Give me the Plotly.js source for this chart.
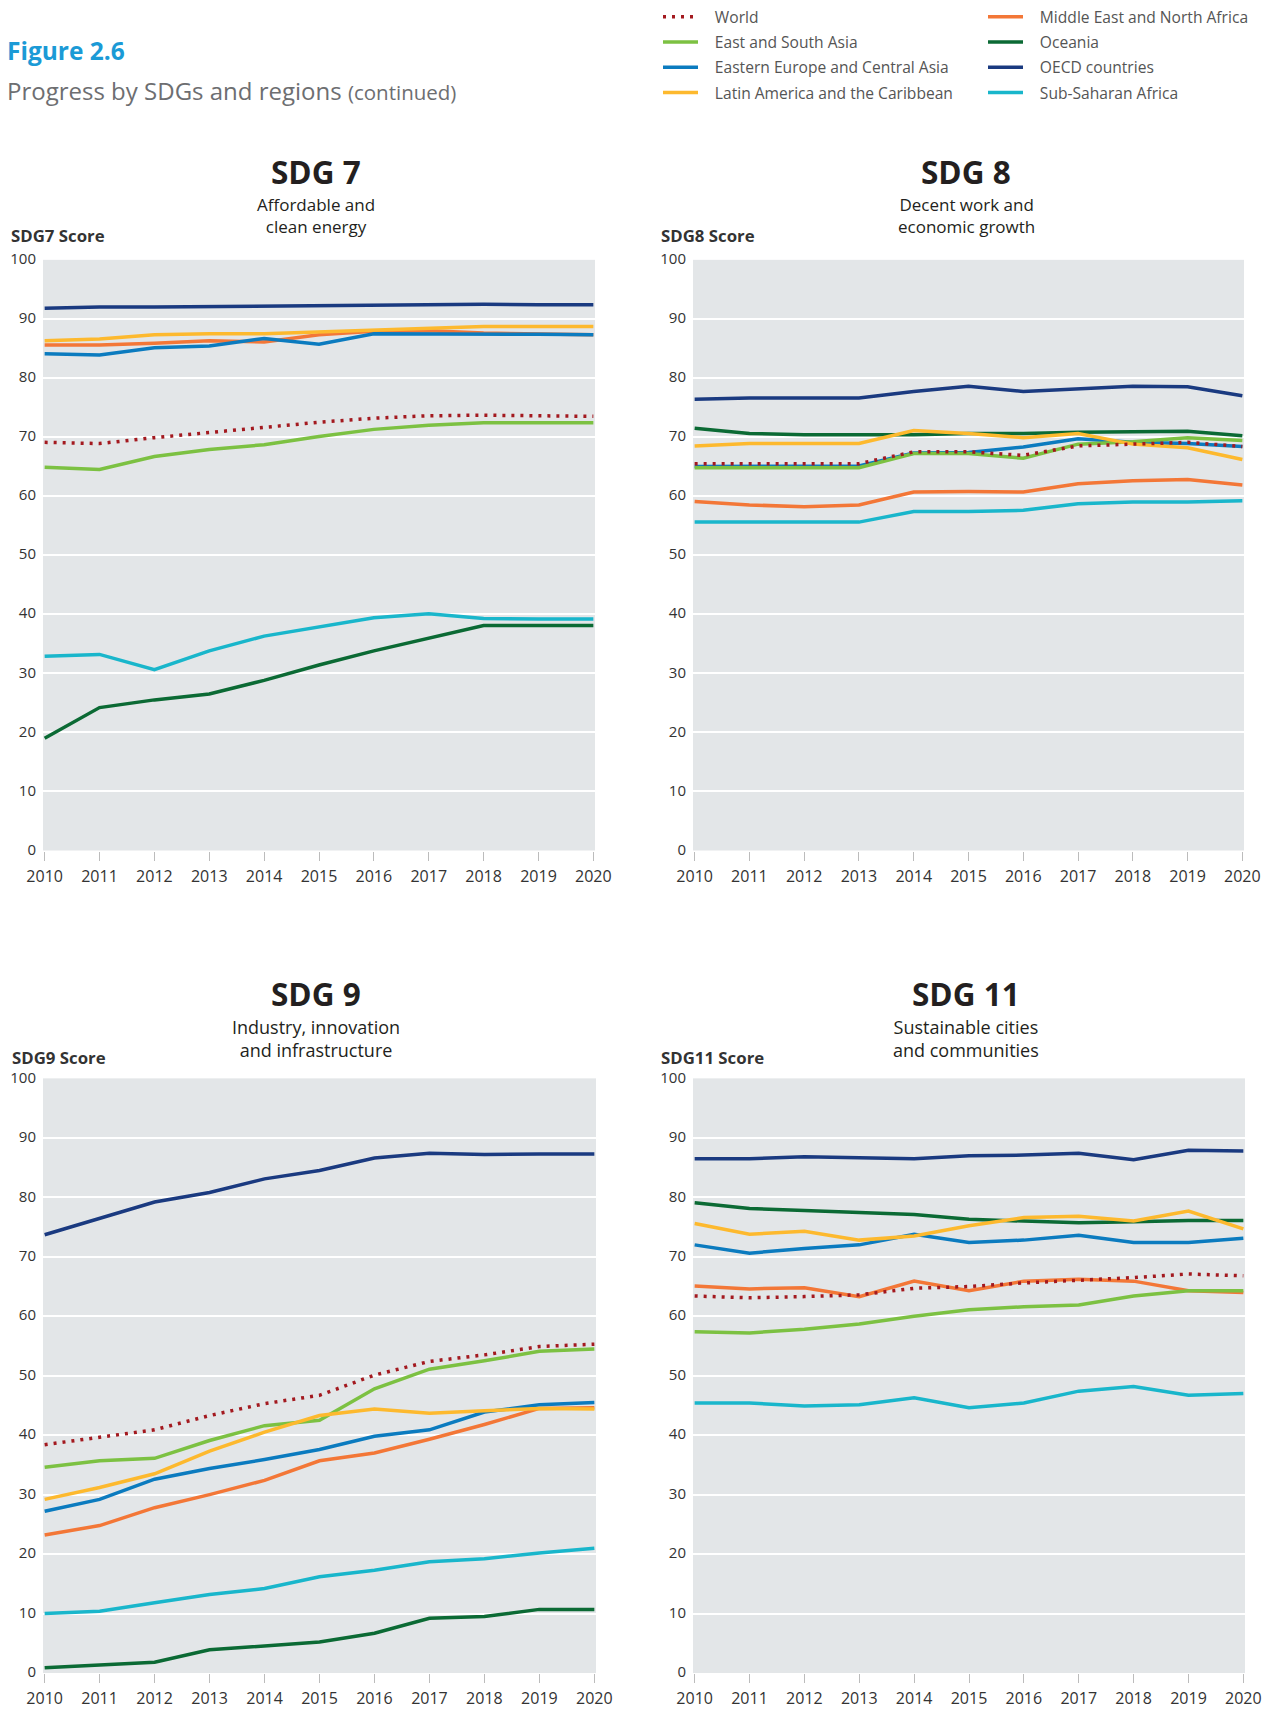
<!DOCTYPE html>
<html>
<head>
<meta charset="utf-8">
<script src="https://cdn.plot.ly/plotly-3.0.1.min.js"></script>
<style>
  html, body { margin: 0; padding: 0; background: #ffffff; }
  #chart { width: 1274px; height: 1709px; }
</style>
</head>
<body>
<div id="chart"></div>
<script>
// ---------------- DATA ----------------
const years = [2010, 2011, 2012, 2013, 2014, 2015, 2016, 2017, 2018, 2019, 2020];
const yTicks = [0, 10, 20, 30, 40, 50, 60, 70, 80, 90, 100];

const regionNames = ["World", "East and South Asia", "Eastern Europe and Central Asia", "Latin America and the Caribbean",
                     "Middle East and North Africa", "Oceania", "OECD countries", "Sub-Saharan Africa"];

// SDG 7 - Affordable and clean energy
const world7 = [69.1, 68.9, 69.9, 70.8, 71.6, 72.5, 73.2, 73.6, 73.7, 73.6, 73.5];
const esa7   = [64.9, 64.5, 66.7, 67.9, 68.7, 70.1, 71.3, 72.0, 72.4, 72.4, 72.4];
const eeca7  = [84.1, 83.9, 85.1, 85.4, 86.7, 85.7, 87.5, 87.5, 87.4, 87.4, 87.3];
const lac7   = [86.3, 86.6, 87.3, 87.5, 87.5, 87.8, 88.1, 88.3, 88.7, 88.7, 88.7];
const mena7  = [85.6, 85.6, 85.9, 86.3, 86.1, 87.3, 87.9, 88.0, 87.6, 87.4, 87.3];
const oce7   = [19.0, 24.2, 25.5, 26.5, 28.8, 31.4, 33.8, 36.0, 38.1, 38.1, 38.1];
const oecd7  = [91.8, 92.0, 92.0, 92.1, 92.2, 92.2, 92.3, 92.4, 92.5, 92.4, 92.4];
const ssa7   = [32.9, 33.2, 30.6, 33.8, 36.3, 37.9, 39.4, 40.1, 39.3, 39.2, 39.2];

// SDG 8 - Decent work and economic growth
const world8 = [65.5, 65.5, 65.5, 65.5, 67.5, 67.5, 66.9, 68.5, 68.8, 69.1, 68.4];
const esa8   = [64.8, 64.8, 64.8, 64.8, 67.2, 67.2, 66.4, 68.8, 69.2, 69.9, 69.4];
const eeca8  = [65.0, 65.0, 65.0, 65.1, 67.3, 67.4, 68.3, 69.7, 69.1, 68.9, 68.4];
const lac8   = [68.5, 68.9, 68.9, 68.9, 71.1, 70.6, 69.9, 70.6, 68.8, 68.2, 66.2];
const mena8  = [59.1, 58.5, 58.2, 58.5, 60.7, 60.8, 60.7, 62.1, 62.6, 62.8, 61.9];
const oce8   = [71.5, 70.6, 70.4, 70.4, 70.4, 70.6, 70.6, 70.8, 70.9, 71.0, 70.2];
const oecd8  = [76.4, 76.6, 76.6, 76.6, 77.7, 78.6, 77.7, 78.2, 78.6, 78.5, 77.0];
const ssa8   = [55.6, 55.6, 55.6, 55.6, 57.4, 57.4, 57.6, 58.7, 59.0, 59.0, 59.2];

// SDG 9 - Industry, innovation and infrastructure
const world9 = [38.4, 39.7, 40.9, 43.3, 45.3, 46.7, 50.1, 52.4, 53.5, 54.9, 55.3];
const esa9   = [34.6, 35.7, 36.1, 39.1, 41.6, 42.5, 47.8, 51.1, 52.5, 54.1, 54.5];
const eeca9  = [27.2, 29.2, 32.6, 34.4, 35.9, 37.6, 39.8, 40.9, 43.9, 45.1, 45.5];
const lac9   = [29.2, 31.2, 33.5, 37.3, 40.5, 43.3, 44.4, 43.7, 44.1, 44.5, 44.4];
const mena9  = [23.2, 24.8, 27.8, 30.0, 32.4, 35.7, 37.0, 39.3, 41.8, 44.5, 44.6];
const oce9   = [0.9, 1.3, 1.8, 3.9, 4.6, 5.2, 6.7, 9.2, 9.5, 10.7, 10.7];
const oecd9  = [73.7, 76.5, 79.2, 80.8, 83.1, 84.5, 86.6, 87.4, 87.2, 87.3, 87.3];
const ssa9   = [10.0, 10.4, 11.8, 13.2, 14.2, 16.2, 17.3, 18.7, 19.2, 20.2, 21.0];

// SDG 11 - Sustainable cities and communities
const world11 = [63.4, 63.1, 63.3, 63.6, 64.7, 65.0, 65.6, 66.0, 66.5, 67.1, 66.8];
const esa11   = [57.4, 57.2, 57.8, 58.7, 60.0, 61.1, 61.6, 61.9, 63.4, 64.3, 64.3];
const eeca11  = [72.0, 70.6, 71.4, 72.0, 73.8, 72.4, 72.8, 73.6, 72.4, 72.4, 73.1];
const lac11   = [75.6, 73.8, 74.3, 72.8, 73.5, 75.2, 76.6, 76.8, 76.0, 77.7, 74.7];
const mena11  = [65.1, 64.6, 64.8, 63.3, 65.9, 64.3, 65.9, 66.2, 65.9, 64.3, 64.0];
const oce11   = [79.1, 78.1, 77.8, 77.4, 77.1, 76.3, 76.0, 75.7, 75.9, 76.1, 76.1];
const oecd11  = [86.5, 86.5, 86.8, 86.7, 86.5, 87.0, 87.1, 87.4, 86.3, 87.9, 87.8];
const ssa11   = [45.4, 45.4, 44.9, 45.1, 46.3, 44.6, 45.4, 47.4, 48.2, 46.7, 47.0];

// ---------------- STYLE ----------------
const W = 1274, H = 1709;
const FONT = "Open Sans, Noto Sans, DejaVu Sans, sans-serif";
const colors = {
  "World": "#a3191f",
  "East and South Asia": "#7cc142",
  "Eastern Europe and Central Asia": "#0b7bbf",
  "Latin America and the Caribbean": "#fdb92e",
  "Middle East and North Africa": "#f37737",
  "Oceania": "#0b6a34",
  "OECD countries": "#1a3a80",
  "Sub-Saharan Africa": "#19b6cb"
};
// legend placement: column and rank
const legendInfo = {
  "World": ["legend", 1], "East and South Asia": ["legend", 2],
  "Eastern Europe and Central Asia": ["legend", 3], "Latin America and the Caribbean": ["legend", 4],
  "Middle East and North Africa": ["legend2", 1], "Oceania": ["legend2", 2],
  "OECD countries": ["legend2", 3], "Sub-Saharan Africa": ["legend2", 4]
};
// drawing order (bottom to top)
const drawOrder = ["Oceania", "Middle East and North Africa", "Eastern Europe and Central Asia",
                   "East and South Asia", "Latin America and the Caribbean", "OECD countries",
                   "Sub-Saharan Africa", "World"];

const panels = [
  { ax: "", data: { "World": world7, "East and South Asia": esa7, "Eastern Europe and Central Asia": eeca7,
      "Latin America and the Caribbean": lac7, "Middle East and North Africa": mena7, "Oceania": oce7,
      "OECD countries": oecd7, "Sub-Saharan Africa": ssa7 } },
  { ax: "2", data: { "World": world8, "East and South Asia": esa8, "Eastern Europe and Central Asia": eeca8,
      "Latin America and the Caribbean": lac8, "Middle East and North Africa": mena8, "Oceania": oce8,
      "OECD countries": oecd8, "Sub-Saharan Africa": ssa8 } },
  { ax: "3", data: { "World": world9, "East and South Asia": esa9, "Eastern Europe and Central Asia": eeca9,
      "Latin America and the Caribbean": lac9, "Middle East and North Africa": mena9, "Oceania": oce9,
      "OECD countries": oecd9, "Sub-Saharan Africa": ssa9 } },
  { ax: "4", data: { "World": world11, "East and South Asia": esa11, "Eastern Europe and Central Asia": eeca11,
      "Latin America and the Caribbean": lac11, "Middle East and North Africa": mena11, "Oceania": oce11,
      "OECD countries": oecd11, "Sub-Saharan Africa": ssa11 } }
];

const LEGEND_PAD = "\u2002\u00a0";  // small gap between legend line and label

const traces = [];
panels.forEach((p, pi) => {
  drawOrder.forEach(name => {
    const isWorld = name === "World";
    traces.push({
      type: "scatter", mode: "lines",
      x: years, y: p.data[name], name: LEGEND_PAD + name,
      xaxis: "x" + p.ax, yaxis: "y" + p.ax,
      line: { color: colors[name], width: 3.5, dash: isWorld ? "3px,6px" : "solid" },
      showlegend: pi === 0,
      legend: legendInfo[name][0],
      legendrank: legendInfo[name][1],
      legendgroup: name,
      hovertemplate: name + "<br>%{x}: %{y:.1f}<extra></extra>"
    });
  });
});

// ---------------- LAYOUT ----------------
const px = v => v / W;
const py = v => 1 - v / H;

function xAxis(l, r) {
  return {
    domain: [px(l), px(r)], range: [2009.97, 2020.03],
    tickmode: "array", tickvals: years, ticktext: years.map(String),
    ticks: "outside", ticklen: 9, tickwidth: 1, tickcolor: "#bcbcbc",
    ticklabelstandoff: 2,
    showgrid: false, zeroline: false, showline: false,
    tickfont: { family: FONT, size: 16, color: "#333333" }, fixedrange: true
  };
}
function yAxis(t, b) {
  return {
    domain: [py(b), py(t)], range: [0, 100],
    tickmode: "array", tickvals: yTicks,
    ticks: "", showgrid: true, gridcolor: "#ffffff", gridwidth: 1.5,
    zeroline: false, showline: false, ticklabelstandoff: 6, ticklabelshift: -1,
    tickfont: { family: FONT, size: 15, color: "#333333" }, fixedrange: true
  };
}

const topY = [259, 850], botY = [1078, 1673];
const leftX = [43, 595], rightX = [693, 1244];

function ann(text, x, y, size, extra) {
  return Object.assign({
    text: text, xref: "paper", yref: "paper", x: px(x), y: py(y),
    xanchor: "center", yanchor: "middle", showarrow: false,
    font: { family: FONT, size: size, color: "#231f20" }
  }, extra || {});
}
function scoreLabel(text, x, y) {
  return ann("<b>" + text + "</b>", x, y, 16.8, { xanchor: "left", font: { family: FONT, size: 16.8, color: "#333333" } });
}

const annotations = [
  ann("<b>Figure 2.6</b>", 5, 50, 24.5, { xanchor: "left", font: { family: FONT, size: 24.5, color: "#1b9ad6" } }),
  ann("Progress by SDGs and regions <span style='font-size:20.5px'>(continued)</span>", 5, 90, 24,
      { xanchor: "left", font: { family: FONT, size: 24, color: "#6d6e71" } }),

  ann("<b>SDG 7</b>", 316, 171, 31.5),
  ann("Affordable and<br>clean energy", 316, 215, 17),
  scoreLabel("SDG7 Score", 9, 235),

  ann("<b>SDG 8</b>", 966, 171, 31.5),
  ann("Decent work and<br>economic growth", 966, 215, 17),
  scoreLabel("SDG8 Score", 659, 235),

  ann("<b>SDG 9</b>", 316, 993, 31.5),
  ann("Industry, innovation<br>and infrastructure", 316, 1038, 18),
  scoreLabel("SDG9 Score", 10, 1057),

  ann("<b>SDG 11</b>", 966, 993, 31.5),
  ann("Sustainable cities<br>and communities", 966, 1038, 18),
  scoreLabel("SDG11 Score", 659, 1057)
];

const legendBase = {
  orientation: "v", xanchor: "left", yanchor: "top", y: py(-1),
  font: { family: FONT, size: 15.6, color: "#555555" },
  bgcolor: "rgba(0,0,0,0)", borderwidth: 0, itemwidth: 35, tracegroupgap: 2,
  traceorder: "grouped"
};

const layout = {
  width: W, height: H,
  margin: { l: 0, r: 0, t: 0, b: 0, pad: 0 },
  paper_bgcolor: "#ffffff", plot_bgcolor: "#e3e6e8",
  font: { family: FONT, color: "#333333" },
  showlegend: true,
  legend: Object.assign({}, legendBase, { x: px(658) }),
  legend2: Object.assign({}, legendBase, { x: px(983) }),
  xaxis: Object.assign(xAxis(leftX[0], leftX[1]), { anchor: "y" }),
  yaxis: Object.assign(yAxis(topY[0], topY[1]), { anchor: "x" }),
  xaxis2: Object.assign(xAxis(rightX[0], rightX[1]), { anchor: "y2" }),
  yaxis2: Object.assign(yAxis(topY[0], topY[1]), { anchor: "x2" }),
  xaxis3: Object.assign(xAxis(leftX[0], leftX[1] + 1), { anchor: "y3" }),
  yaxis3: Object.assign(yAxis(botY[0], botY[1]), { anchor: "x3" }),
  xaxis4: Object.assign(xAxis(rightX[0], rightX[1] + 1), { anchor: "y4" }),
  yaxis4: Object.assign(yAxis(botY[0], botY[1]), { anchor: "x4" }),
  annotations: annotations
};

Plotly.newPlot("chart", traces, layout, { displayModeBar: false, responsive: false });
</script>
</body>
</html>
